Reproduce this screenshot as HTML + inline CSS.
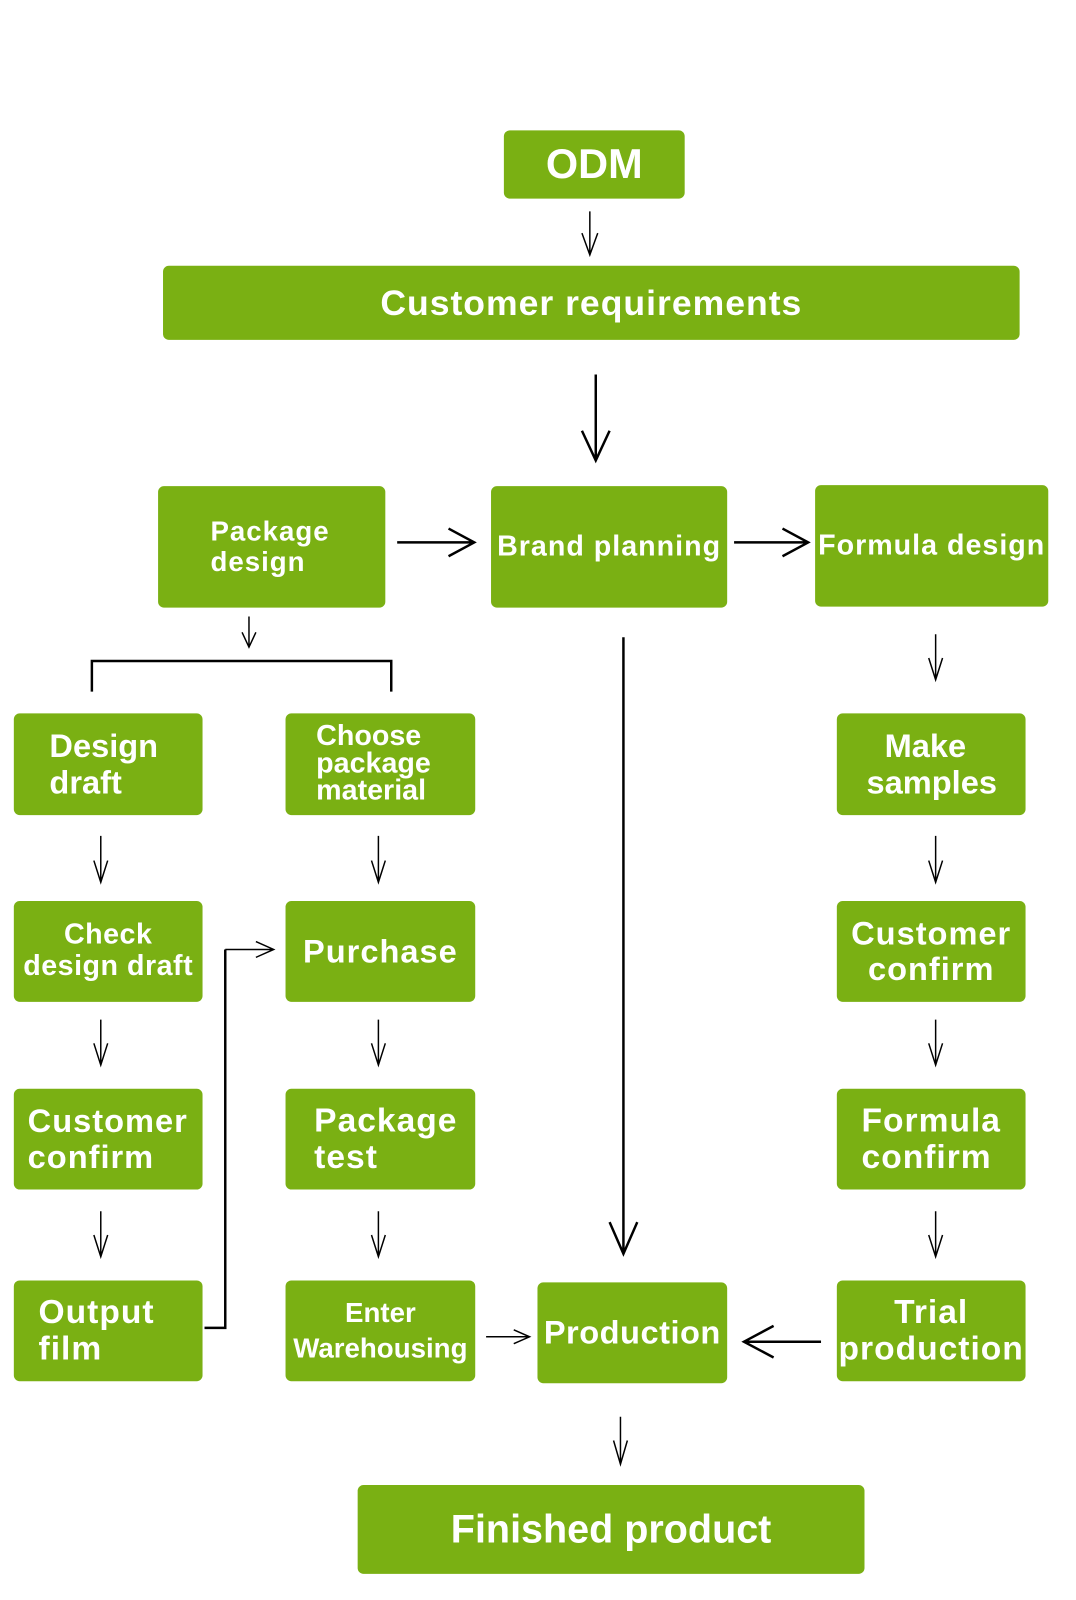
<!DOCTYPE html>
<html><head><meta charset="utf-8"><style>
body{margin:0;width:1076px;height:1600px;background:#fff;position:relative;overflow:hidden;font-family:"Liberation Sans",Arial,sans-serif;}
#w{position:absolute;left:0;top:0;width:1076px;height:1600px;transform:scale(0.988);transform-origin:0 0;}
.b{position:absolute;background:#7ab013;border-radius:6px;color:#fff;font-weight:bold;display:flex;align-items:center;justify-content:center;text-align:left;line-height:1.1;}
svg{position:absolute;left:0;top:0}
</style></head><body><div id="w">
<div class="b" style="left:510px;top:132px;width:183px;height:69px;font-size:42px">ODM</div>
<div class="b" style="left:165px;top:269px;width:867px;height:75px;font-size:36px;letter-spacing:1px">Customer requirements</div>
<div class="b" style="left:160px;top:492px;width:230px;height:123px;font-size:28px;letter-spacing:1px;justify-content:flex-start;padding-left:53px;box-sizing:border-box">Package<br>design</div>
<div class="b" style="left:497px;top:492px;width:239px;height:123px;font-size:29px;letter-spacing:1px">Brand planning</div>
<div class="b" style="left:825px;top:491px;width:236px;height:123px;font-size:29px;letter-spacing:1px">Formula design</div>

<div class="b" style="left:14px;top:722px;width:191px;height:103px;font-size:33px;justify-content:flex-start;padding-left:36px;box-sizing:border-box">Design<br>draft</div>
<div class="b" style="left:289px;top:722px;width:192px;height:103px;font-size:29px;line-height:0.95;justify-content:flex-start;padding-left:31px;box-sizing:border-box">Choose<br>package<br>material</div>
<div class="b" style="left:847px;top:722px;width:191px;height:103px;font-size:33px;justify-content:flex-start;padding-left:30px;box-sizing:border-box"><span>&nbsp;&nbsp;Make<br>samples</span></div>

<div class="b" style="left:14px;top:912px;width:191px;height:102px;font-size:29px;text-align:center;letter-spacing:0.5px">Check<br>design draft</div>
<div class="b" style="left:289px;top:912px;width:192px;height:102px;font-size:33px;letter-spacing:1px">Purchase</div>
<div class="b" style="left:847px;top:912px;width:191px;height:102px;font-size:33px;text-align:center;letter-spacing:1px">Customer<br>confirm</div>

<div class="b" style="left:14px;top:1102px;width:191px;height:102px;font-size:33px;justify-content:flex-start;padding-left:14px;box-sizing:border-box;letter-spacing:1px">Customer<br>confirm</div>
<div class="b" style="left:289px;top:1102px;width:192px;height:102px;font-size:34px;justify-content:flex-start;padding-left:29px;box-sizing:border-box;letter-spacing:1px">Package<br>test</div>
<div class="b" style="left:847px;top:1102px;width:191px;height:102px;font-size:34px;justify-content:flex-start;padding-left:25px;box-sizing:border-box;letter-spacing:1px">Formula<br>confirm</div>

<div class="b" style="left:14px;top:1296px;width:191px;height:102px;font-size:34px;justify-content:flex-start;padding-left:25px;box-sizing:border-box;letter-spacing:1px">Output<br>film</div>
<div class="b" style="left:289px;top:1296px;width:192px;height:102px;font-size:28px;text-align:center;line-height:1.3">Enter<br>Warehousing</div>
<div class="b" style="left:544px;top:1298px;width:192px;height:102px;font-size:33px;letter-spacing:0.5px">Production</div>
<div class="b" style="left:847px;top:1296px;width:191px;height:102px;font-size:34px;text-align:center;letter-spacing:1px">Trial<br>production</div>

<div class="b" style="left:362px;top:1503px;width:513px;height:90px;font-size:40px;letter-spacing:0px">Finished product</div>

<svg width="1076" height="1600" fill="none" stroke="#000">
<g stroke-width="1.5">
<path d="M597 214V258M589 236L597 258L605 236"/>
<path d="M252 624V655M245 640L252 655L259 640"/>
<path d="M102 846V893M95 871L102 893L109 871"/>
<path d="M102 1032V1078M95 1056L102 1078L109 1056"/>
<path d="M102 1226V1272M95 1250L102 1272L109 1250"/>
<path d="M383 846V893M376 871L383 893L390 871"/>
<path d="M383 1032V1078M376 1056L383 1078L390 1056"/>
<path d="M383 1226V1272M376 1250L383 1272L390 1250"/>
<path d="M947 642V688M940 666L947 688L954 666"/>
<path d="M947 846V893M940 871L947 893L954 871"/>
<path d="M947 1032V1078M940 1056L947 1078L954 1056"/>
<path d="M947 1226V1272M940 1250L947 1272L954 1250"/>
<path d="M628 1434V1482M621 1458L628 1482L635 1458"/>
<path d="M492 1353H536M520 1346L536 1353L520 1360"/>
<path d="M228 961H277M259 953L277 961L259 969"/>
</g>
<g stroke-width="2.5">
<path d="M603 379V466M589 436L603 466L617 436"/>
<path d="M402 549H480M454 535L480 549L454 563"/>
<path d="M743 549H818M792 535L818 549L792 563"/>
<path d="M631 645V1269M617 1237L631 1269L645 1237"/>
<path d="M831 1358H753M783 1342L753 1358L783 1374"/>
<path d="M93 700V669H396V700"/>
<path d="M207 1344H228V961"/>
</g>
</svg>
</div></body></html>
